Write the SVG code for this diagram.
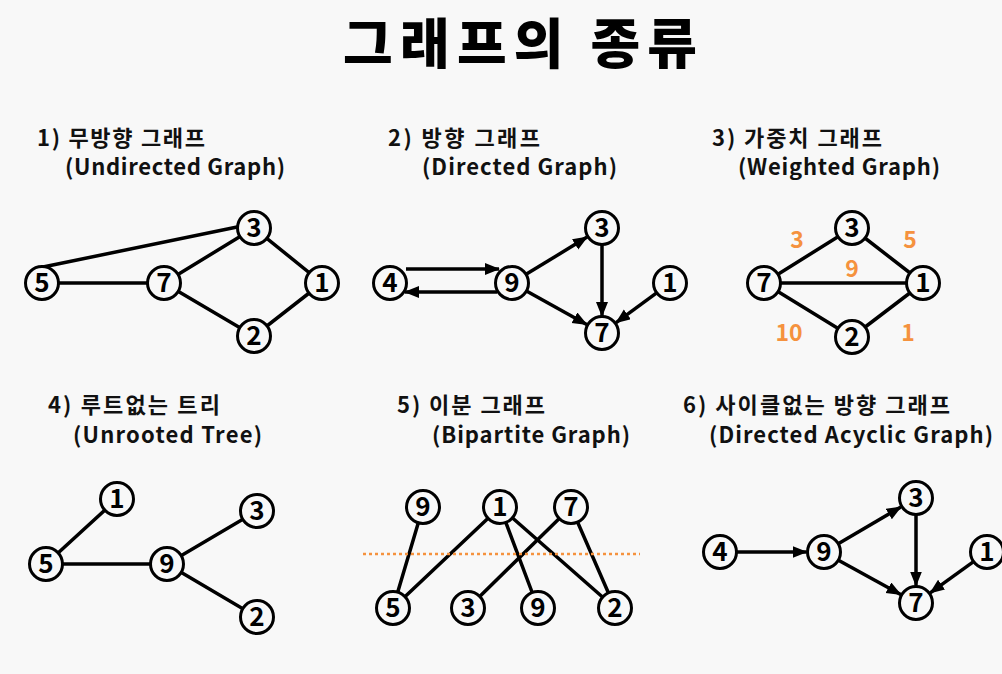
<svg xmlns="http://www.w3.org/2000/svg" width="1002" height="674" viewBox="0 0 1002 674">
<style>
.bg{fill:#f8f8f8}
.title{font-family:"Noto Sans CJK KR","Noto Sans",sans-serif;font-weight:900;font-size:54px;fill:#000}
.h{font-family:"Noto Sans CJK KR","Noto Sans",sans-serif;font-weight:700;font-size:22px;fill:#111}
.n circle{fill:#f8f8f8;stroke:#000;stroke-width:3}
.n text{font-family:"Noto Sans CJK KR","Noto Sans",sans-serif;font-weight:600;font-size:26px;fill:#000;text-anchor:middle}
.e line{stroke:#000;stroke-width:3.5;stroke-linecap:round}
.a line{stroke:#000;stroke-width:3.5;marker-end:url(#arr)}
.w{font-family:"Noto Sans CJK KR","Noto Sans",sans-serif;font-weight:700;font-size:23px;fill:#f5923e;text-anchor:middle}
</style>
<defs>
<marker id="arr" markerUnits="userSpaceOnUse" markerWidth="16" markerHeight="14" refX="14" refY="6" orient="auto">
<path d="M0,0 L15,6 L0,12 z" fill="#000"/>
</marker>
</defs>
<rect class="bg" x="0" y="0" width="1002" height="674"/>
<text class="title" x="343" y="64" textLength="354" lengthAdjust="spacing">그래프의 종류</text>

<g id="headings">
<text class="h" x="37" y="146" textLength="168" lengthAdjust="spacing">1) 무방향 그래프</text>
<text class="h" x="65" y="175" textLength="220" lengthAdjust="spacing">(Undirected Graph)</text>
<text class="h" x="388" y="146" textLength="152" lengthAdjust="spacing">2) 방향 그래프</text>
<text class="h" x="422" y="175" textLength="195" lengthAdjust="spacing">(Directed Graph)</text>
<text class="h" x="712" y="146" textLength="170" lengthAdjust="spacing">3) 가중치 그래프</text>
<text class="h" x="738" y="175" textLength="202" lengthAdjust="spacing">(Weighted Graph)</text>
<text class="h" x="48" y="413" textLength="172" lengthAdjust="spacing">4) 루트없는 트리</text>
<text class="h" x="73" y="443" textLength="189" lengthAdjust="spacing">(Unrooted Tree)</text>
<text class="h" x="397" y="413" textLength="148" lengthAdjust="spacing">5) 이분 그래프</text>
<text class="h" x="432" y="443" textLength="198" lengthAdjust="spacing">(Bipartite Graph)</text>
<text class="h" x="683" y="413" textLength="267" lengthAdjust="spacing">6) 사이클없는 방향 그래프</text>
<text class="h" x="709" y="443" textLength="284" lengthAdjust="spacing">(Directed Acyclic Graph)</text>
</g>

<g id="connectors">
<g class="e">
<line x1="43" y1="267" x2="242" y2="226"/>
<line x1="42" y1="283" x2="164" y2="283"/>
<line x1="164" y1="283" x2="254" y2="228"/>
<line x1="254" y1="228" x2="322" y2="283"/>
<line x1="164" y1="283" x2="254" y2="336"/>
<line x1="254" y1="336" x2="322" y2="283"/>

<line x1="852" y1="228" x2="764" y2="283"/>
<line x1="852" y1="228" x2="923" y2="283"/>
<line x1="764" y1="283" x2="923" y2="283"/>
<line x1="764" y1="283" x2="852" y2="337"/>
<line x1="852" y1="337" x2="923" y2="283"/>

<line x1="117" y1="499" x2="46" y2="564"/>
<line x1="46" y1="564" x2="167" y2="564"/>
<line x1="167" y1="564" x2="257" y2="511"/>
<line x1="167" y1="564" x2="257" y2="617"/>

<line x1="423" y1="507" x2="393" y2="608"/>
<line x1="500" y1="507" x2="393" y2="608"/>
<line x1="500" y1="507" x2="538" y2="608"/>
<line x1="500" y1="507" x2="615" y2="608"/>
<line x1="571" y1="507" x2="468" y2="608"/>
<line x1="571" y1="507" x2="615" y2="608"/>
</g>
<line x1="363" y1="554" x2="640" y2="554" stroke="#f5923e" stroke-width="2.5" stroke-dasharray="3,3"/>
<g class="a">
<line x1="406" y1="269" x2="499" y2="269"/>
<line x1="497" y1="292" x2="405" y2="292"/>
<line x1="526.5" y1="274.1" x2="587.1" y2="237.1"/>
<line x1="602" y1="245" x2="602" y2="316"/>
<line x1="526.9" y1="291.3" x2="586.7" y2="324.5"/>
<line x1="656.3" y1="293.1" x2="616.1" y2="322.6"/>

<line x1="736" y1="552" x2="806.5" y2="552"/>
<line x1="837.8" y1="543.9" x2="900.9" y2="506.9"/>
<line x1="916" y1="515" x2="916" y2="585.5"/>
<line x1="838" y1="560" x2="900.7" y2="594.5"/>
<line x1="973.2" y1="561.9" x2="930.2" y2="592.8"/>
</g>
</g>

<g id="weights">
<text class="w" x="797" y="248">3</text>
<text class="w" x="910" y="248">5</text>
<text class="w" x="852" y="277">9</text>
<text class="w" x="789" y="341">10</text>
<text class="w" x="908" y="341">1</text>
</g>

<g id="g1-n3" class="n"><circle cx="254" cy="228" r="16.5"/><text x="254" y="237">3</text></g>
<g id="g1-n5" class="n"><circle cx="42" cy="283" r="16.5"/><text x="42" y="292">5</text></g>
<g id="g1-n7" class="n"><circle cx="164" cy="283" r="16.5"/><text x="164" y="292">7</text></g>
<g id="g1-n1" class="n"><circle cx="322" cy="283" r="16.5"/><text x="322" y="292">1</text></g>
<g id="g1-n2" class="n"><circle cx="254" cy="336" r="16.5"/><text x="254" y="345">2</text></g>

<g id="g2-n4" class="n"><circle cx="390" cy="283" r="16.5"/><text x="390" y="292">4</text></g>
<g id="g2-n9" class="n"><circle cx="512" cy="283" r="16.5"/><text x="512" y="292">9</text></g>
<g id="g2-n3" class="n"><circle cx="602" cy="228" r="16.5"/><text x="602" y="237">3</text></g>
<g id="g2-n7" class="n"><circle cx="602" cy="333" r="16.5"/><text x="602" y="342">7</text></g>
<g id="g2-n1" class="n"><circle cx="670" cy="283" r="16.5"/><text x="670" y="292">1</text></g>

<g id="g3-n3" class="n"><circle cx="852" cy="228" r="16.5"/><text x="852" y="237">3</text></g>
<g id="g3-n7" class="n"><circle cx="764" cy="283" r="16.5"/><text x="764" y="292">7</text></g>
<g id="g3-n1" class="n"><circle cx="923" cy="283" r="16.5"/><text x="923" y="292">1</text></g>
<g id="g3-n2" class="n"><circle cx="852" cy="337" r="16.5"/><text x="852" y="346">2</text></g>

<g id="g4-n1" class="n"><circle cx="117" cy="499" r="16.5"/><text x="117" y="508">1</text></g>
<g id="g4-n5" class="n"><circle cx="46" cy="564" r="16.5"/><text x="46" y="573">5</text></g>
<g id="g4-n9" class="n"><circle cx="167" cy="564" r="16.5"/><text x="167" y="573">9</text></g>
<g id="g4-n3" class="n"><circle cx="257" cy="511" r="16.5"/><text x="257" y="520">3</text></g>
<g id="g4-n2" class="n"><circle cx="257" cy="617" r="16.5"/><text x="257" y="626">2</text></g>

<g id="g5-n9a" class="n"><circle cx="423" cy="507" r="16.5"/><text x="423" y="516">9</text></g>
<g id="g5-n1" class="n"><circle cx="500" cy="507" r="16.5"/><text x="500" y="516">1</text></g>
<g id="g5-n7" class="n"><circle cx="571" cy="507" r="16.5"/><text x="571" y="516">7</text></g>
<g id="g5-n5" class="n"><circle cx="393" cy="608" r="16.5"/><text x="393" y="617">5</text></g>
<g id="g5-n3" class="n"><circle cx="468" cy="608" r="16.5"/><text x="468" y="617">3</text></g>
<g id="g5-n9b" class="n"><circle cx="538" cy="608" r="16.5"/><text x="538" y="617">9</text></g>
<g id="g5-n2" class="n"><circle cx="615" cy="608" r="16.5"/><text x="615" y="617">2</text></g>

<g id="g6-n4" class="n"><circle cx="720" cy="552" r="16.5"/><text x="720" y="561">4</text></g>
<g id="g6-n9" class="n"><circle cx="824" cy="552" r="16.5"/><text x="824" y="561">9</text></g>
<g id="g6-n3" class="n"><circle cx="916" cy="498" r="16.5"/><text x="916" y="507">3</text></g>
<g id="g6-n7" class="n"><circle cx="916" cy="603" r="16.5"/><text x="916" y="612">7</text></g>
<g id="g6-n1" class="n"><circle cx="987" cy="552" r="16.5"/><text x="987" y="561">1</text></g>
</svg>
